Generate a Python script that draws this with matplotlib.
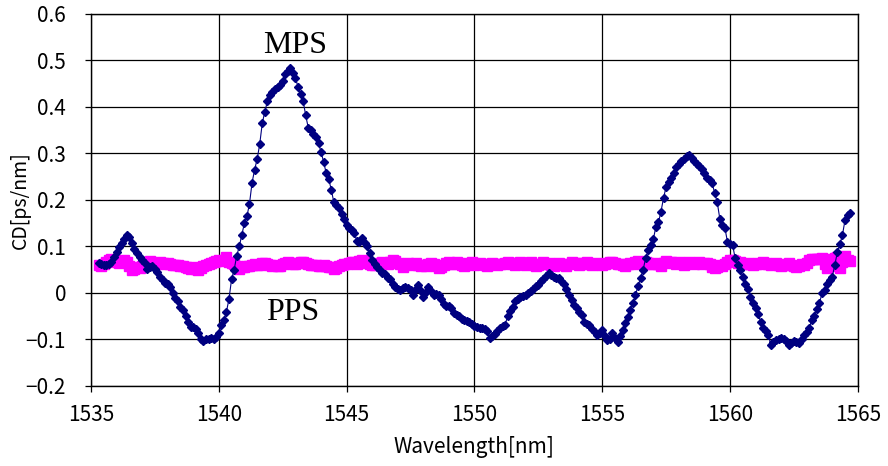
import numpy as np
import matplotlib
matplotlib.use("Agg")
import matplotlib.pyplot as plt

plt.rcParams['font.family'] = ['Noto Sans CJK JP', 'DejaVu Sans']

# wavelength grid [nm], 0.1 nm sampling
wl_start, wl_stop, wl_step = 1535.3, 1564.7, 0.1
wavelength = np.round(np.arange(wl_start, wl_stop + wl_step / 2, wl_step), 1)

# CD of MPS [ps/nm]
mps = [
    0.064, 0.062, 0.060, 0.061, 0.063, 0.066, 0.078,
    0.088, 0.098, 0.107, 0.116, 0.124, 0.120, 0.108, 0.094, 0.086, 0.078,
    0.070, 0.064, 0.052, 0.055, 0.057, 0.052, 0.046, 0.035, 0.028, 0.022,
    0.020, 0.012, 0.000, -0.010, -0.018, -0.030, -0.037, -0.050, -0.062, -0.073,
    -0.074, -0.078, -0.086, -0.100, -0.103, -0.100, -0.098, -0.097, -0.100, -0.095,
    -0.085, -0.068, -0.058, -0.040, -0.012, 0.030, 0.050, 0.080, 0.100, 0.125,
    0.150, 0.165, 0.192, 0.237, 0.265, 0.288, 0.320, 0.365, 0.390, 0.412,
    0.425, 0.432, 0.438, 0.443, 0.448, 0.455, 0.470, 0.478, 0.484, 0.474,
    0.462, 0.443, 0.428, 0.412, 0.382, 0.355, 0.350, 0.342, 0.335, 0.322,
    0.303, 0.282, 0.258, 0.245, 0.222, 0.195, 0.190, 0.183, 0.170, 0.160,
    0.146, 0.140, 0.136, 0.130, 0.112, 0.110, 0.118, 0.108, 0.100, 0.085,
    0.072, 0.062, 0.055, 0.050, 0.044, 0.040, 0.033, 0.030, 0.020, 0.012,
    0.008, 0.006, 0.010, 0.013, 0.010, 0.006, -0.005, 0.008, 0.017, 0.004,
    -0.008, 0.002, 0.013, 0.004, -0.005, -0.002, -0.005, -0.012, -0.024, -0.027,
    -0.028, -0.032, -0.042, -0.047, -0.050, -0.055, -0.058, -0.060, -0.062, -0.066,
    -0.072, -0.074, -0.075, -0.076, -0.078, -0.082, -0.097, -0.093, -0.088, -0.082,
    -0.075, -0.071, -0.068, -0.050, -0.038, -0.030, -0.018, -0.012, -0.008, -0.006,
    -0.005, 0.000, 0.005, 0.008, 0.015, 0.018, 0.026, 0.030, 0.036, 0.043,
    0.038, 0.035, 0.033, 0.032, 0.026, 0.020, 0.008, -0.005, -0.015, -0.025,
    -0.033, -0.040, -0.047, -0.062, -0.066, -0.069, -0.078, -0.084, -0.090, -0.086,
    -0.080, -0.092, -0.102, -0.098, -0.086, -0.096, -0.105, -0.092, -0.080, -0.065,
    -0.052, -0.037, -0.022, -0.005, 0.015, 0.032, 0.050, 0.075, 0.092, 0.104,
    0.116, 0.142, 0.152, 0.175, 0.205, 0.228, 0.238, 0.248, 0.258, 0.270,
    0.278, 0.284, 0.288, 0.295, 0.297, 0.290, 0.284, 0.278, 0.273, 0.267,
    0.258, 0.247, 0.242, 0.236, 0.215, 0.195, 0.160, 0.146, 0.140, 0.110,
    0.106, 0.104, 0.075, 0.060, 0.050, 0.035, 0.020, 0.008, -0.008, -0.022,
    -0.032, -0.045, -0.062, -0.075, -0.082, -0.090, -0.112, -0.106, -0.102, -0.098,
    -0.097, -0.100, -0.104, -0.112, -0.108, -0.104, -0.106, -0.108, -0.098, -0.090,
    -0.083, -0.075, -0.058, -0.050, -0.035, -0.022, 0.000, 0.006, 0.020, 0.028,
    0.035, 0.060, 0.088, 0.105, 0.125, 0.157, 0.168, 0.172,
]

# CD of PPS [ps/nm]
pps = [
    0.060, 0.058, 0.062, 0.066, 0.070, 0.074, 0.072,
    0.066, 0.064, 0.068, 0.070, 0.066, 0.058, 0.050, 0.052, 0.056, 0.054,
    0.058, 0.062, 0.066, 0.068, 0.065, 0.063, 0.064, 0.066, 0.065, 0.063,
    0.064, 0.062, 0.060, 0.061, 0.060, 0.058, 0.057, 0.056, 0.054, 0.052,
    0.055, 0.052, 0.050, 0.054, 0.058, 0.060, 0.062, 0.065, 0.066, 0.068,
    0.070, 0.068, 0.072, 0.078, 0.066, 0.064, 0.062, 0.058, 0.052, 0.056,
    0.055, 0.057, 0.058, 0.060, 0.062, 0.060, 0.061, 0.064, 0.065, 0.062,
    0.060, 0.058, 0.060, 0.057, 0.058, 0.062, 0.064, 0.066, 0.065, 0.063,
    0.062, 0.064, 0.066, 0.067, 0.065, 0.062, 0.060, 0.061, 0.060, 0.058,
    0.058, 0.060, 0.059, 0.056, 0.055, 0.052, 0.054, 0.058, 0.060, 0.062,
    0.062, 0.064, 0.067, 0.066, 0.063, 0.068, 0.070, 0.068, 0.064, 0.062,
    0.060, 0.061, 0.062, 0.064, 0.066, 0.064, 0.062, 0.066, 0.072, 0.068,
    0.064, 0.062, 0.056, 0.062, 0.064, 0.060, 0.062, 0.065, 0.060, 0.058,
    0.060, 0.058, 0.063, 0.064, 0.062, 0.058, 0.054, 0.056, 0.060, 0.064,
    0.066, 0.063, 0.062, 0.066, 0.064, 0.060, 0.058, 0.062, 0.064, 0.066,
    0.060, 0.062, 0.064, 0.063, 0.060, 0.058, 0.062, 0.064, 0.062, 0.060,
    0.063, 0.062, 0.064, 0.067, 0.064, 0.062, 0.060, 0.064, 0.066, 0.062,
    0.060, 0.062, 0.067, 0.063, 0.058, 0.060, 0.063, 0.066, 0.062, 0.064,
    0.060, 0.058, 0.062, 0.064, 0.060, 0.062, 0.059, 0.063, 0.066, 0.064,
    0.064, 0.060, 0.062, 0.064, 0.066, 0.063, 0.060, 0.062, 0.065, 0.063,
    0.060, 0.062, 0.064, 0.067, 0.066, 0.064, 0.062, 0.063, 0.060, 0.058,
    0.062, 0.064, 0.063, 0.066, 0.068, 0.064, 0.062, 0.066, 0.065, 0.063,
    0.062, 0.064, 0.062, 0.058, 0.065, 0.068, 0.066, 0.066, 0.064, 0.062,
    0.066, 0.065, 0.060, 0.064, 0.066, 0.065, 0.063, 0.064, 0.066, 0.062,
    0.065, 0.064, 0.062, 0.056, 0.054, 0.056, 0.060, 0.058, 0.062, 0.066,
    0.070, 0.072, 0.068, 0.064, 0.066, 0.063, 0.062, 0.064, 0.062, 0.060,
    0.063, 0.064, 0.062, 0.066, 0.064, 0.062, 0.060, 0.062, 0.064, 0.060,
    0.058, 0.060, 0.062, 0.064, 0.060, 0.058, 0.055, 0.058, 0.062, 0.060,
    0.064, 0.072, 0.073, 0.074, 0.073, 0.074, 0.076, 0.062, 0.054, 0.058,
    0.074, 0.076, 0.077, 0.054, 0.066, 0.080, 0.070, 0.068,
]

x_ticks = [1535, 1540, 1545, 1550, 1555, 1560, 1565]
y_ticks = [-0.2, -0.1, 0, 0.1, 0.2, 0.3, 0.4, 0.5, 0.6]
y_ticklabels = ['\u22120.2', '\u22120.1', '0', '0.1', '0.2', '0.3', '0.4', '0.5', '0.6']

fig = plt.figure(figsize=(8.88, 4.66), dpi=100)
ax = fig.add_axes([0.1025, 0.1717, 0.8635, 0.7983])

ax.plot(wavelength, pps, color='#FF00FF', marker='s', markersize=6.5,
        linewidth=1, zorder=3)
ax.plot(wavelength, mps, color='#000080', marker='D', markersize=4.2,
        linewidth=0.8, zorder=4)

ax.text(1543.0, 0.533, 'MPS', family='Liberation Serif', fontsize=23,
        ha='center', va='center')
ax.text(1542.9, -0.041, 'PPS', family='Liberation Serif', fontsize=23,
        ha='center', va='center')

ax.set_xlim(1535, 1565)
ax.set_ylim(-0.2, 0.6)
ax.set_xticks(x_ticks)
ax.set_yticks(y_ticks)
ax.set_yticklabels(y_ticklabels)
ax.grid(True, color='black', linewidth=0.9)
ax.set_axisbelow(True)
for s in ax.spines.values():
    s.set_linewidth(1.0)
ax.tick_params(direction='out', length=4, width=0.9, labelsize=15)
ax.tick_params(axis='y', pad=14)
ax.tick_params(axis='x', pad=9)

ax.set_xlabel('Wavelength[nm]', fontsize=15, labelpad=7)
ax.set_ylabel('CD[ps/nm]', fontsize=14)
ax.yaxis.set_label_coords(-0.079, 0.5)

fig.savefig('out.png', dpi=100)
